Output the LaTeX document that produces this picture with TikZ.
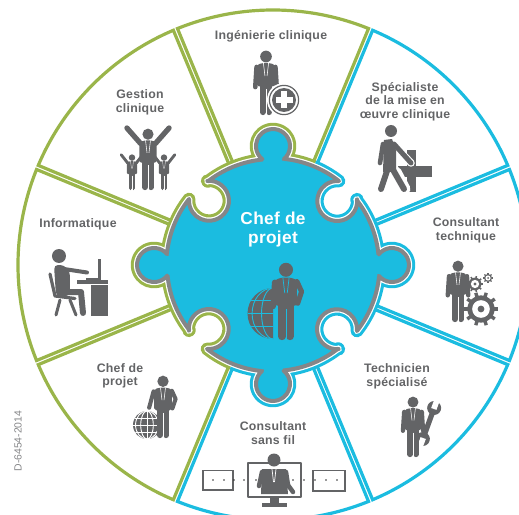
\documentclass[tikz,border=0pt]{standalone}
\usepackage{fontspec}
\setmainfont{Liberation Sans}
\definecolor{grn}{HTML}{9AB54A}
\definecolor{blu}{HTML}{1BBCE0}
\definecolor{ico}{HTML}{636466}
\definecolor{edg}{HTML}{858688}
\newfontfamily\lblfont[LetterSpace=2]{Liberation Sans}
\tikzset{
  lbl/.style={text=ico,align=center,inner sep=0pt,font=\lblfont\bfseries\fontsize{12.3}{13.4}\selectfont},
  ctr/.style={text=white,align=center,inner sep=0pt,font=\lblfont\bfseries\fontsize{17.3}{19}\selectfont},
  sect/.style={line width=3.2pt,line join=miter,line cap=butt},
  img/.style={shift={(-273,265)},yscale=-1},
  lim/.style={draw=ico,line cap=round,line join=round},
}
\newcommand\pzq[1]{ -- ({#1-5.78}:106.3) arc[start angle={#1-141},end angle={#1+141},radius=17] -- ({#1+5.78}:106) arc[start angle={#1+5.78},end angle={#1+38},radius=106] -- ({#1+38}:106.8) arc[start angle={#1+5},end angle={#1-275},radius=20] -- ({#1+52}:106.8) arc[start angle={#1+52},end angle={#1+84.22},radius=106]}
\newcommand\pz{(-5.78:106.3) \pzq{0}\pzq{90}\pzq{180}\pzq{270} -- cycle}
\newcommand\sector[3]{% start angle, end angle, colour
  \draw[sect,#3] ({#2-1.2}:100) -- ({#2-0.5}:255) arc[start angle={#2-0.5},end angle={#1+0.5},radius=255]
     -- ({#1+1.2}:100);}
% man: image x, image y of the feet, scale, background colour, extras
\newcommand\man[5]{%
  \begin{scope}[shift={(#1-273,265-#2)},scale=#3]
    \pgfmathsetmacro\s{#3}
    \def\bgc{#4}
    \fill[ico] (0,90) circle (9);
    \fill[ico,rounded corners=3pt*\s] (-6,80) -- (6,80) -- (14,77) -- (14,44) -- (-14,44) -- (-14,77) -- cycle;
    \draw[lim,line width=9.4pt*\s] (-5,44) -- (-5,4.5) (5,44) -- (5,4.5);
    \draw[\bgc,line width=1pt*\s] (0,40) -- (0,0);
    \draw[\bgc,line width=.9pt*\s] (-4,80) -- (-1.6,60) (4,80) -- (1.6,60);
    #5
  \end{scope}}
\newcommand\armL{\draw[lim,line width=7pt*\s] (-14.5,74) -- (-16.5,43);}
\newcommand\armR{\draw[lim,line width=7pt*\s] (14.5,74) -- (16.5,43);}
\newcommand\armHip{\draw[lim,line width=6.5pt*\s] (14,75) -- (20,62) -- (15,47);}
\newcommand\gearicon[5]{%
  \fill[ico] (#1,#2) circle ({#3*.8});
  \foreach \a in {1,...,#4}
    \draw[ico,line width=#5pt] (#1,#2) ++({\a*360/#4}:{#3*.7}) -- ++({\a*360/#4}:{#3*.3});
  \fill[white] (#1,#2) circle ({#3*.52});
  \fill[ico] (#1,#2) circle ({#3*.2});}
\newcommand\globeicon[5]{%
  \fill[#4] (#1,#2) circle (#3);
  \begin{scope}
    \clip (#1,#2) circle (#3);
    \draw[#5,line width=.9pt] (#1,{#2-#3*.5}) ++(-#3,0) -- ++({2*#3},0)
       (#1,#2) ++(-#3,0) -- ++({2*#3},0)
       (#1,{#2+#3*.5}) ++(-#3,0) -- ++({2*#3},0);
    \draw[#5,line width=.9pt] (#1,#2) ellipse ({#3*.45} and #3);
    \draw[#5,line width=.9pt] (#1,#2) ellipse ({#3*.82} and #3);
    \draw[#5,line width=.9pt] (#1,{#2-#3}) -- (#1,{#2+#3});
  \end{scope}}
\begin{document}
\begin{tikzpicture}[x=1pt,y=1pt]
\useasboundingbox (-273,-249) rectangle (246,265);
\clip (-273,-249) rectangle (246,265);
% sectors
\sector{67.5}{112.5}{grn}
\sector{112.5}{157.5}{grn}
\sector{157.5}{202.5}{grn}
\sector{202.5}{247.5}{grn}
\sector{247.5}{292.5}{blu}
\sector{292.5}{337.5}{blu}
\sector{-22.5}{22.5}{blu}
\sector{22.5}{67.5}{blu}
% puzzle piece
\begin{scope}
  \clip (0,0) -- (67.5:400) -- (157.5:400) -- (247.5:400) -- cycle;
  \draw[grn,line width=12.6pt,line join=round] \pz;
\end{scope}
\begin{scope}
  \clip (0,0) -- (67.5:400) -- (-22.5:400) -- (247.5:400) -- cycle;
  \draw[blu,line width=12.6pt,line join=round] \pz;
\end{scope}
\draw[white,line width=6.4pt,line join=round] \pz;
\draw[edg,line width=4pt,line join=round,fill=blu] \pz;
\begin{scope}[img]
  % labels
  \node[ctr] (tc) at (273,230) {Chef de\\projet};
  \node[lbl] (t1) at (271,36) {Ingénierie clinique};
  \node[lbl] (t2) at (140,102.5) {Gestion\\clinique};
  \node[lbl] (t3) at (405,101.5) {Spécialiste\\de la mise en\\œuvre clinique};
  \node[lbl] (t4) at (466,230.5) {Consultant\\technique};
  \node[lbl] (t5) at (78,224) {Informatique};
  \node[lbl] (t6) at (120,376) {Chef de\\projet};
  \node[lbl] (t7) at (273,433) {Consultant\\sans fil};
  \node[lbl] (t8) at (397,376.5) {Technicien\\spécialisé};
  \node[rotate=90,text=edg,inner sep=0pt,font=\fontsize{10.4}{12}\selectfont] (ref) at (18,441) {D-6454-2014};
  % centre globe
  \begin{scope}
    \clip (240,280) rectangle (273,345);
    \globeicon{273}{313.5}{25.5}{ico}{blu}
  \end{scope}
  % Informatique
  \fill[ico] (59,256) circle (7);
  \fill[ico,rounded corners=4pt] (54,265) -- (64,265) -- (70,272) -- (70,296) -- (56,296) -- cycle;
  \draw[lim,line width=4pt] (64,269) -- (87,272.5);
  \draw[lim,line width=6pt] (60,292) -- (81,292) -- (83,313);
  \draw[lim,line width=3.2pt] (50,274) -- (55,296) -- (75,298.5);
  \draw[lim,line width=3pt] (60,300) -- (56,315) (70,300) -- (76,315);
  \fill[ico] (77,280) rectangle (108,284);
  \fill[ico] (91,285) rectangle (108,316);
  \fill[ico] (98.5,259) rectangle (101,279.5);
  \fill[ico] (86,277.5) rectangle (101,279.5);
  % Specialiste: walking man and crate
  \fill[ico] (406.5,150) rectangle (416,192.5);
  \fill[ico] (398,166) rectangle (432,177);
  \fill[ico] (391,131) circle (6);
  \draw[white,line width=7.5pt,line cap=round] (394,145) -- (411,163);
  \draw[white,line width=11pt,line cap=round] (396,172) -- (405,189);
  \fill[ico] (384,140) -- (392,139) -- (396,150) -- (396,172) -- (383,172) -- cycle;
  \draw[lim,line width=5pt] (394,144) -- (411,163);
  \draw[lim,line width=4.6pt] (383,144) -- (380,163);
  \draw[lim,line width=6pt] (388,168) -- (381,189) (392,168) -- (404,189);
  % Globe small
  \globeicon{147}{425}{14}{ico}{white}
  % gears
  \gearicon{481}{309}{17}{10}{3.4}
  \gearicon{475}{284}{8}{9}{1.6}
  \gearicon{488}{278}{5}{8}{1.1}
  % wrench
  \begin{scope}[shift={(428.5,423.5)},rotate=20]
    \fill[ico] (-2.6,-14) rectangle (2.6,14);
    \fill[ico] (0,-16.5) circle (7);
    \fill[ico] (0,16.5) circle (7);
    \fill[white] (-2.8,-15.5) rectangle (2.8,-26);
    \fill[white] (-2.8,15.5) rectangle (2.8,26);
  \end{scope}
  % monitor
  \draw[ico,line width=2.4pt,line join=round] (248,463) rectangle (301,497);
  \fill[ico] (270,497) rectangle (279,503);
  \fill[ico] (262,503) -- (287,503) -- (287,507) -- (262,507) -- cycle;
  \draw[ico,line width=1.8pt] (203,470.5) rectangle (233,490);
  \draw[ico,line width=1.8pt] (313,470.5) rectangle (345,491);
  \foreach \px in {213,224,234,244,256,293,304,315,326,337}
    \fill[black!80] (\px,480) circle (.9);
\end{scope}
% men
\man{286}{340}{.78}{blu}{\armL\armHip}
\man{266}{115}{.65}{white}{\armL\armR}
\man{148}{190}{.62}{white}{%
  \draw[lim,line width=8.5pt*\s] (-12,75) -- (-34,100) (12,75) -- (34,100);}
\man{132}{190}{.36}{white}{%
  \draw[lim,line width=8pt*\s] (-12,75) -- (-30,98) (12,75) -- (30,98);}
\man{164}{190}{.36}{white}{%
  \draw[lim,line width=8pt*\s] (-12,75) -- (-30,98) (12,75) -- (30,98);}
\man{458}{322}{.62}{white}{\armL\armR}
\man{413}{457}{.61}{white}{\armL\armR}
\man{163}{438}{.63}{white}{\armHip\draw[lim,line width=6.5pt*\s] (-15,74) -- (-22,48);}
\begin{scope}[img]
  \fill[white] (284,100) circle (17);
  \draw[ico,line width=1.2pt] (284,100) circle (14.6);
  \fill[ico] (284,100) circle (12);
  \fill[white] (281,91.5) rectangle (287,108.5);
  \fill[white] (275.5,97) rectangle (292.5,103);
  % monitor man
  \begin{scope}
    \clip (240,440) rectangle (310,494);
    \fill[ico] (274,460) circle (6.5);
    \fill[ico] (262,469) -- (286,469) -- (288,494) -- (261,494) -- cycle;
    \draw[lim,line width=4.5pt] (262,472) -- (259,486);
    \draw[lim,line width=4.5pt] (286,472) -- (288,485) -- (293,492);
    \draw[white,line width=.7pt] (272,469) -- (273.5,482) (276,469) -- (274.5,482);
  \end{scope}
\end{scope}
\end{tikzpicture}
\end{document}
